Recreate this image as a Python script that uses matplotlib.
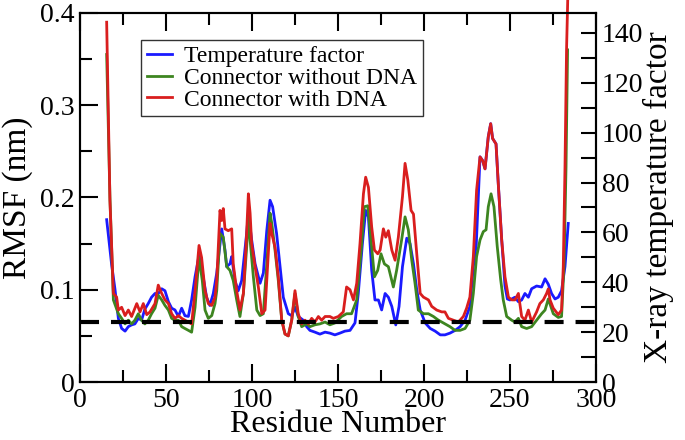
import matplotlib
matplotlib.use('Agg')
import matplotlib.pyplot as plt
from matplotlib.ticker import MultipleLocator, FuncFormatter

plt.rcParams['font.family'] = ['Liberation Serif', 'DejaVu Serif']
plt.rcParams['lines.scale_dashes'] = False

# Data: residue numbers and values
res_bfac = [15.5, 18.4, 20.3, 22.3, 24.2, 26.2, 28.1, 30.0, 31.9, 33.9, 35.8, 37.7, 39.7, 41.6,
            43.6, 45.5, 47.5, 49.4, 51.4, 53.3, 55.2, 57.2, 59.1, 61.0, 63.0, 64.9, 66.9, 69.2,
            71.6, 73.6, 75.5, 77.5, 79.5, 82.4, 84.3, 85.3, 87.2, 88.2, 90.1, 92.0, 94.0, 96.9,
            97.9, 99.8, 101.8, 104.7, 106.6, 108.6, 110.5, 112.0, 114.3, 116.3, 118.2, 121.1,
            123.1, 125.0, 126.9, 129.8, 131.8, 133.7, 136.6, 139.5, 142.5, 145.3, 148.2, 151.1,
            154.0, 157.0, 159.9, 161.8, 164.2, 166.1, 167.7, 169.6, 171.5, 173.5, 175.4, 177.4,
            179.3, 181.3, 183.6, 185.5, 187.5, 190.0, 191.9, 193.9, 195.8, 197.8, 200.7, 203.6,
            206.5, 209.5, 212.2, 215.1, 218.1, 221.0, 223.9, 226.7, 228.7, 230.4, 232.6, 234.1,
            235.5, 237.4, 238.8, 239.9, 241.9, 243.2, 245.2, 247.1, 248.5, 250.0, 252.9, 254.9,
            256.8, 258.7, 260.7, 262.6, 265.5, 268.4, 270.4, 272.3, 274.2, 276.2, 278.1, 280.0,
            282.0, 283.9]
bfactor = [65.1, 47.0, 37.4, 25.5, 21.5, 20.4, 22.2, 22.9, 23.3, 25.5, 24.8, 29.2, 31.5, 34.0,
           35.5, 35.5, 37.4, 36.6, 32.2, 29.6, 28.9, 26.3, 29.6, 26.6, 26.3, 32.9, 42.2, 50.7,
           42.2, 34.0, 30.7, 35.5, 43.7, 61.4, 52.9, 46.3, 47.4, 50.3, 40.7, 36.6, 40.7, 59.6,
           67.7, 57.0, 47.4, 39.6, 43.7, 60.7, 72.9, 70.3, 59.6, 46.3, 34.0, 27.4,
           26.6, 30.0, 26.3, 24.8, 22.2, 20.7, 20.0, 19.2, 20.0, 19.6, 18.9, 19.6,
           20.4, 20.7, 23.7, 35.5, 55.5, 68.8, 66.2, 44.8, 32.9, 32.9, 28.9, 35.5,
           34.0, 30.3, 22.9, 30.3, 46.3, 57.7, 55.5, 47.4, 37.0, 28.9, 23.7, 21.5,
           20.4, 18.9, 18.9, 19.6, 20.7, 22.2, 24.8, 30.3, 46.3, 55.0, 90.3, 88.8,
           85.5, 98.4, 103.6, 97.7, 95.5, 79.6, 57.0, 38.5, 33.3, 32.9, 34.0, 32.2,
           32.9, 35.5, 34.0, 37.4, 38.5, 38.1, 41.4, 39.2, 35.5, 33.3, 34.0, 36.6,
           46.3, 63.6]

res_free = [15.5, 17.4, 19.4, 22.3, 24.2, 26.2, 28.1, 30.0, 31.9, 33.9, 35.8, 37.7, 39.7, 41.6,
            43.6, 45.5, 47.5, 49.4, 51.4, 53.3, 55.2, 57.2, 59.1, 61.0, 63.0, 64.9, 66.9, 69.2,
            71.1, 72.7, 74.6, 76.6, 78.5, 79.5, 81.4, 83.3, 85.3, 87.2, 89.1, 91.1, 93.0, 95.0,
            96.9, 97.9, 98.9, 100.8, 102.8, 104.7, 106.6, 108.6, 110.5, 111.5, 113.4, 115.3,
            117.3, 119.2, 121.1, 123.1, 125.0, 126.9, 128.9, 131.8, 133.7, 136.6, 139.5, 142.5,
            145.3, 148.2, 152.1, 155.0, 157.9, 160.9, 163.8, 165.3, 167.3, 169.2, 171.2, 173.1,
            175.0, 177.0, 179.3, 182.2, 184.1, 187.0, 189.0, 190.9, 192.9, 194.8, 196.7, 199.7,
            202.6, 205.5, 208.4, 211.3, 215.1, 218.1, 221.0, 223.9, 226.7, 228.7, 230.6, 232.6,
            234.5, 236.1, 237.4, 239.0, 240.7, 242.6, 244.6, 246.1, 248.1, 251.0, 252.9, 254.9,
            256.8, 259.7, 262.6, 265.5, 268.4, 270.4, 272.3, 275.2, 278.1, 280.0, 281.4, 282.6,
            283.5]
rmsf_free = [0.355, 0.200, 0.089, 0.074, 0.069, 0.063, 0.067, 0.063, 0.067, 0.074, 0.067, 0.063,
             0.067, 0.074, 0.080, 0.094, 0.089, 0.083, 0.078, 0.069, 0.067, 0.067, 0.060, 0.058,
             0.056, 0.054, 0.081, 0.135, 0.110, 0.078, 0.069, 0.072, 0.085, 0.099, 0.161, 0.157,
             0.125, 0.121, 0.110, 0.089, 0.071, 0.096, 0.146, 0.179, 0.154, 0.114, 0.078, 0.072,
             0.074, 0.128, 0.183, 0.172, 0.143, 0.110, 0.067, 0.052, 0.050, 0.067, 0.096, 0.071,
             0.060, 0.063, 0.060, 0.062, 0.063, 0.065, 0.062, 0.064, 0.071, 0.074, 0.074, 0.089,
             0.150, 0.190, 0.191, 0.154, 0.114, 0.121, 0.139, 0.128, 0.125, 0.103, 0.121, 0.154,
             0.179, 0.165, 0.132, 0.107, 0.078, 0.074, 0.074, 0.071, 0.067, 0.064, 0.060, 0.056,
             0.056, 0.058, 0.067, 0.096, 0.136, 0.154, 0.163, 0.165, 0.190, 0.204, 0.190, 0.147,
             0.111, 0.089, 0.071, 0.067, 0.065, 0.069, 0.060, 0.058, 0.060, 0.067, 0.074, 0.078,
             0.090, 0.074, 0.070, 0.071, 0.125, 0.233, 0.360]

res_dna = [15.5, 17.4, 19.4, 21.3, 22.3, 24.2, 26.2, 28.1, 30.0, 33.0, 34.9, 36.8, 38.8, 40.7,
           43.6, 45.5, 47.5, 49.4, 51.4, 53.3, 55.2, 57.2, 59.1, 61.0, 63.0, 64.9, 66.9, 69.2,
           70.7, 72.7, 74.6, 76.6, 78.5, 79.5, 81.4, 82.4, 83.3, 84.3, 86.2, 88.2, 89.1, 91.1,
           93.0, 95.0, 96.5, 97.9, 98.9, 99.8, 101.8, 103.7, 105.7, 107.6, 109.5, 110.5, 111.5,
           113.4, 115.3, 117.3, 119.2, 121.1, 123.1, 125.0, 126.9, 128.9, 130.8, 132.8, 134.7,
           136.6, 138.6, 140.5, 142.5, 145.3, 147.3, 150.2, 153.1, 155.0, 157.0, 159.0, 160.9,
           162.8, 164.8, 166.1, 167.7, 169.6, 171.2, 173.1, 174.5, 176.4, 177.8, 179.3, 181.3,
           183.2, 185.1, 187.5, 189.0, 190.6, 192.5, 193.9, 195.8, 197.8, 199.7, 202.6, 204.5,
           207.4, 210.3, 212.2, 214.2, 217.1, 220.0, 222.9, 224.8, 226.7, 228.7, 230.6, 232.6,
           234.1, 235.5, 237.4, 238.8, 239.9, 241.9, 243.2, 245.2, 247.1, 249.1, 251.0, 252.9,
           254.9, 256.8, 258.7, 260.7, 262.6, 265.5, 267.4, 269.4, 271.3, 272.3, 273.3, 275.2,
           278.1, 280.0, 281.0, 282.0, 282.9, 283.6]
rmsf_dna = [0.390, 0.197, 0.096, 0.092, 0.078, 0.081, 0.072, 0.078, 0.071, 0.085, 0.076, 0.085,
            0.073, 0.076, 0.085, 0.105, 0.096, 0.089, 0.085, 0.074, 0.069, 0.072, 0.069, 0.067,
            0.065, 0.063, 0.099, 0.148, 0.135, 0.099, 0.085, 0.083, 0.092, 0.110, 0.186, 0.175,
            0.188, 0.166, 0.164, 0.166, 0.128, 0.099, 0.078, 0.096, 0.146, 0.204, 0.183, 0.150,
            0.125, 0.103, 0.074, 0.078, 0.139, 0.172, 0.161, 0.146, 0.114, 0.067, 0.052, 0.050,
            0.067, 0.099, 0.074, 0.063, 0.067, 0.063, 0.069, 0.065, 0.071, 0.067, 0.071, 0.071,
            0.069, 0.071, 0.076, 0.103, 0.100, 0.089, 0.107, 0.150, 0.204, 0.222, 0.211, 0.168,
            0.143, 0.139, 0.143, 0.166, 0.157, 0.164, 0.143, 0.132, 0.157, 0.201, 0.237, 0.219,
            0.186, 0.182, 0.139, 0.096, 0.092, 0.089, 0.082, 0.078, 0.076, 0.076, 0.069, 0.067,
            0.065, 0.071, 0.080, 0.092, 0.136, 0.208, 0.244, 0.240, 0.231, 0.266, 0.280, 0.264,
            0.258, 0.215, 0.154, 0.114, 0.092, 0.089, 0.089, 0.096, 0.071, 0.067, 0.078, 0.065,
            0.076, 0.085, 0.089, 0.096, 0.101, 0.089, 0.080, 0.073, 0.078, 0.125, 0.233, 0.360,
            0.415]

cutoff = 0.065

fig = plt.figure(figsize=(6.85, 4.4), dpi=100)
ax = fig.add_axes([0.1168, 0.1318, 0.7532, 0.8387])
ax2 = ax.twinx()
# keep the RMSF curves above the B-factor curve
ax.set_zorder(ax2.get_zorder() + 1)
ax.patch.set_visible(False)

lb, = ax2.plot(res_bfac, bfactor, color='#1a1aff', lw=2, label='Temperature factor')
lg, = ax.plot(res_free, rmsf_free, color='#3d8520', lw=2, label='Connector without DNA')
lr, = ax.plot(res_dna, rmsf_dna, color='#d91e1e', lw=2, label='Connector with DNA', clip_on=False)
dash, = ax.plot([0, 300], [cutoff, cutoff], color='black', lw=3, zorder=5)
dash.set_dashes((13.7, 8.6))

ax.set_xlim(0, 300)
ax.set_ylim(0, 0.4)
ax2.set_ylim(0, 148)

ax.xaxis.set_major_locator(MultipleLocator(50))
ax.xaxis.set_minor_locator(MultipleLocator(25))
ax.yaxis.set_major_locator(MultipleLocator(0.1))
ax.yaxis.set_minor_locator(MultipleLocator(0.05))
ax.yaxis.set_major_formatter(FuncFormatter(lambda v, p: '0' if abs(v) < 1e-9 else f'{v:.1f}'))
ax2.yaxis.set_major_locator(MultipleLocator(20))
ax2.yaxis.set_minor_locator(MultipleLocator(10))

ax.tick_params(which='both', direction='in', top=True, right=False, width=1.5,
               labelsize=20, pad=4)
ax.tick_params(which='major', length=13)
ax.tick_params(which='minor', length=8.5)
ax2.tick_params(which='both', direction='in', width=1.5, length=11, labelsize=20, pad=4)

for a in (ax, ax2):
    for s in a.spines.values():
        s.set_linewidth(1.5)

ax.set_xlabel('Residue Number', fontsize=23, labelpad=-1.5)
ax.set_ylabel('RMSF (nm)', fontsize=24, labelpad=5)
ax2.set_ylabel('X-ray temperature factor', fontsize=24, labelpad=0)

leg = ax.legend(handles=[lb, lg, lr], loc='upper left', bbox_to_anchor=(0.206, 0.909),
                bbox_transform=fig.transFigure, fontsize=17, frameon=True, fancybox=False,
                edgecolor='black', handlelength=1.05, handletextpad=0.5, borderpad=0.25,
                labelspacing=0.0, borderaxespad=0)
leg.get_frame().set_linewidth(1.0)

plt.savefig('out.png', dpi=100)
